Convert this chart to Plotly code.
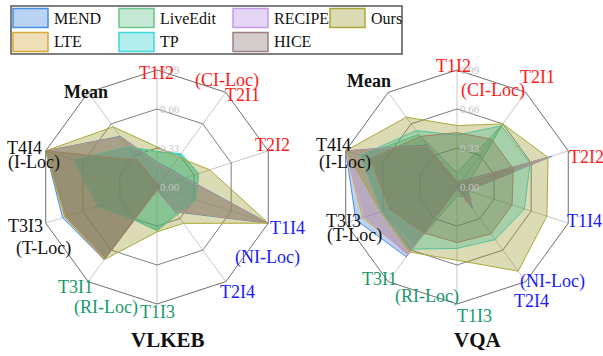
import plotly.graph_objects as go

# ---------------- data ----------------
axes_names = ["T1I2", "T2I1", "T2I2", "T1I4", "T2I4", "T1I3", "T3I1", "T3I3", "T4I4", "Mean"]
methods = ["MEND", "LTE", "LiveEdit", "TP", "RECIPE", "HICE", "Ours"]
panel_titles = ["VLKEB", "VQA"]
radial_ticks = [0.00, 0.33, 0.66, 0.99]

vlkeb_mend     = [0.21, 0.19, 0.25, 0.99, 0.26, 0.03, 0.76, 0.84, 0.99, 0.53]
vlkeb_lte      = [0.20, 0.18, 0.24, 0.97, 0.25, 0.03, 0.75, 0.81, 0.99, 0.52]
vlkeb_liveedit = [0.30, 0.34, 0.37, 0.35, 0.29, 0.37, 0.34, 0.53, 0.74, 0.42]
vlkeb_tp       = [0.30, 0.35, 0.37, 0.34, 0.28, 0.36, 0.34, 0.52, 0.74, 0.42]
vlkeb_recipe   = [0.20, 0.18, 0.24, 0.98, 0.25, 0.03, 0.75, 0.82, 0.99, 0.52]
vlkeb_hice     = [0.03, 0.03, 0.03, 0.04, 0.03, 0.02, 0.74, 0.80, 0.99, 0.28]
vlkeb_ours     = [0.34, 0.31, 0.47, 0.99, 0.38, 0.38, 0.76, 0.82, 0.99, 0.63]

vqa_mend     = [0.05, 0.06, 0.84, 0.10, 0.22, 0.02, 0.73, 0.90, 0.99, 0.44]
vqa_lte      = [0.04, 0.05, 0.80, 0.08, 0.20, 0.02, 0.70, 0.84, 0.99, 0.42]
vqa_liveedit = [0.12, 0.66, 0.10, 0.10, 0.10, 0.08, 0.60, 0.66, 0.85, 0.55]
vqa_tp       = [0.44, 0.64, 0.65, 0.60, 0.55, 0.52, 0.65, 0.67, 0.86, 0.59]
vqa_recipe   = [0.05, 0.05, 0.82, 0.09, 0.21, 0.02, 0.71, 0.82, 0.99, 0.43]
vqa_hice     = [0.46, 0.50, 0.50, 0.49, 0.49, 0.47, 0.48, 0.60, 0.77, 0.53]
vqa_ours     = [0.52, 0.66, 0.81, 0.80, 0.88, 0.62, 0.68, 0.68, 0.99, 0.73]

panels = [
    [vlkeb_mend, vlkeb_lte, vlkeb_liveedit, vlkeb_tp, vlkeb_recipe, vlkeb_hice, vlkeb_ours],
    [vqa_mend, vqa_lte, vqa_liveedit, vqa_tp, vqa_recipe, vqa_hice, vqa_ours],
]

# ---------------- styles ----------------
W, H = 603, 356
FONT = "Liberation Serif, Times New Roman, serif"
base_rgb = {
    "MEND": (30, 110, 215), "LTE": (200, 150, 20), "LiveEdit": (58, 178, 112),
    "TP": (0, 198, 198), "RECIPE": (170, 118, 225), "HICE": (110, 92, 90), "Ours": (135, 138, 10),
}
edge_col = {
    "MEND": "#4a8ee0", "LTE": "#d8a838", "LiveEdit": "#6cc48c", "TP": "#40d8d8",
    "RECIPE": "#c89ae8", "HICE": "#a08080", "Ours": "#aaa838",
}
ALPHA = 0.30

def fill(m, a=ALPHA):
    r, g, b = base_rgb[m]
    return f"rgba({r},{g},{b},{a})"

RED, BLUE, GREEN, BLACK = "#ff1a1a", "#1a1aff", "#17996b", "#111111"

def px_x(x):
    return x / W

def px_y(y):
    return 1 - y / H

# polar geometry (pixel centres, radius)
centers = [(157, 187), (457, 187)]
R = 117
RMAX = 0.99

fig = go.Figure()
for p, series in enumerate(panels):
    sub = "polar" if p == 0 else "polar2"
    for m, vals in zip(methods, series):
        fig.add_trace(go.Scatterpolar(
            r=vals + vals[:1], theta=axes_names + axes_names[:1],
            mode="lines", fill="toself", fillcolor=fill(m),
            line=dict(color=edge_col[m], width=1),
            name=m, showlegend=False, subplot=sub, hoverinfo="skip",
        ))

def polar_layout(cx, cy):
    return dict(
        domain=dict(x=[px_x(cx - R), px_x(cx + R)], y=[px_y(cy + R), px_y(cy - R)]),
        gridshape="linear", bgcolor="rgba(0,0,0,0)",
        radialaxis=dict(range=[0, RMAX], tickvals=radial_ticks, showticklabels=False,
                        angle=90, showline=False, ticks="",
                        gridcolor="#808080", gridwidth=1, layer="above traces"),
        angularaxis=dict(direction="clockwise", rotation=90, showticklabels=False,
                         ticks="", gridcolor="#c8c8c8", gridwidth=1,
                         showline=True, linecolor="#707070", linewidth=1,
                         layer="above traces"),
    )

annotations = []
shapes = []

# radial tick labels, placed just right of the vertical spoke
for cx, cy in centers:
    for t in radial_ticks:
        annotations.append(dict(text=f"{t:.2f}", x=px_x(cx + 1), y=px_y(cy - R * t / RMAX),
                                xref="paper", yref="paper", xanchor="left", yanchor="middle",
                                showarrow=False,
                                font=dict(family=FONT, size=11, color="#c4c4c4")))

# axis labels (text, colour) and their pixel positions per panel
label_specs = [
    ("T1I2", RED), ("(CI-Loc)", RED), ("T2I1", RED), ("T2I2", RED),
    ("T1I4", BLUE), ("(NI-Loc)", BLUE), ("T2I4", BLUE),
    ("T1I3", GREEN), ("(RI-Loc)", GREEN), ("T3I1", GREEN),
    ("T3I3", BLACK), ("(T-Loc)", BLACK), ("T4I4", BLACK), ("(I-Loc)", BLACK),
    ("<b>Mean</b>", BLACK),
]
label_pos = [
    [(156, 73), (227, 81), (242, 95), (272, 145), (287, 228), (267, 257), (237, 292),
     (157, 312), (106, 307), (75, 287), (25, 226), (43, 248), (24, 148), (34, 163), (86, 92)],
    [(453, 66), (493, 90), (537, 77), (586, 157), (584, 221), (552, 281), (531, 301),
     (474, 316), (427, 296), (379, 279), (343, 221), (354, 236), (333, 145), (345, 162), (369, 81)],
]
title_pos = [(168, 340), (478, 340)]

for p in range(2):
    for (txt, col), (x, y) in zip(label_specs, label_pos[p]):
        annotations.append(dict(text=txt, x=px_x(x), y=px_y(y), xref="paper", yref="paper",
                                xanchor="center", yanchor="middle", showarrow=False,
                                font=dict(family=FONT, size=18, color=col)))
    tx, ty = title_pos[p]
    annotations.append(dict(text=f"<b>{panel_titles[p]}</b>", x=px_x(tx), y=px_y(ty),
                            xref="paper", yref="paper", xanchor="center", yanchor="middle",
                            showarrow=False, font=dict(family=FONT, size=21, color="#111111")))

# custom legend (column-major, 4 columns x 2 rows)
leg_box = (11, 6, 402, 54)
col_x = [13, 119, 233, 330]
row_y = [18, 42]
sw_w, sw_h = 35, 19
shapes.append(dict(type="rect", xref="paper", yref="paper",
                   x0=px_x(leg_box[0]), x1=px_x(leg_box[2]),
                   y0=px_y(leg_box[3]), y1=px_y(leg_box[1]),
                   line=dict(color="#555555", width=1.5), fillcolor="white", layer="above"))
for i, m in enumerate(methods):
    c, r = divmod(i, 2)
    x0 = col_x[c]
    yc = row_y[r]
    shapes.append(dict(type="rect", xref="paper", yref="paper",
                       x0=px_x(x0), x1=px_x(x0 + sw_w),
                       y0=px_y(yc + sw_h / 2), y1=px_y(yc - sw_h / 2),
                       line=dict(color=edge_col[m], width=1.5), fillcolor=fill(m), layer="above"))
    annotations.append(dict(text=m, x=px_x(x0 + sw_w + 4), y=px_y(yc), xref="paper", yref="paper",
                            xanchor="left", yanchor="middle", showarrow=False,
                            font=dict(family=FONT, size=16, color="#111111")))

fig.update_layout(
    width=W, height=H, margin=dict(l=0, r=0, t=0, b=0),
    paper_bgcolor="white", plot_bgcolor="white", showlegend=False,
    polar=polar_layout(*centers[0]), polar2=polar_layout(*centers[1]),
    annotations=annotations, shapes=shapes,
)

fig.write_html("out.html", config={"displayModeBar": False, "staticPlot": True},
               post_script="document.body.style.margin='0px';document.body.style.overflow='hidden';")
